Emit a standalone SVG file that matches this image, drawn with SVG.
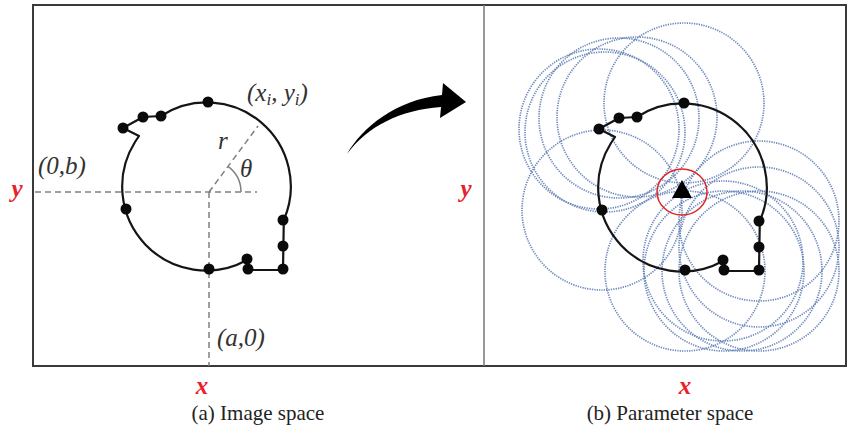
<svg xmlns="http://www.w3.org/2000/svg" xmlns:xlink="http://www.w3.org/1999/xlink" width="848" height="430" viewBox="0 0 848 430">
<style>
.frame{fill:none;stroke:#3a3a3a;stroke-width:2}
.div{stroke:#777;stroke-width:1.5}
.dash{fill:none;stroke:#808080;stroke-width:1.5;stroke-dasharray:6 4}
.shape{fill:none;stroke:#151515;stroke-width:2.2;stroke-linejoin:round}
.dot{fill:#0a0a0a}
.hc{fill:none;stroke:#5f7db5;stroke-width:1.7;stroke-dasharray:1.3 1.1;opacity:0.9}
.lbl{font-family:"Liberation Serif",serif;font-style:italic;font-size:25px;fill:#333}
.ax{font-family:"Liberation Serif",serif;font-style:italic;font-weight:bold;font-size:25px;fill:#e8202a}
.cap{font-family:"Liberation Serif",serif;font-size:21px;fill:#222}
</style>
<defs>
<g id="edge">
<path class="shape" d="M161,116 A84,84 0 0 1 283.8,220 L283,270 L248,270 L247,260 A84,84 0 0 1 135,142 L139,136 L123,128 L143,117 Z"/>
<circle class="dot" cx="208" cy="102" r="5.5"/>
<circle class="dot" cx="161" cy="116" r="5.5"/>
<circle class="dot" cx="143" cy="117" r="5.5"/>
<circle class="dot" cx="123" cy="128" r="5.5"/>
<circle class="dot" cx="126" cy="209" r="5.5"/>
<circle class="dot" cx="209" cy="269" r="5.5"/>
<circle class="dot" cx="247" cy="259" r="5.5"/>
<circle class="dot" cx="248" cy="269" r="5.5"/>
<circle class="dot" cx="283" cy="220" r="5.5"/>
<circle class="dot" cx="283" cy="246" r="5.5"/>
<circle class="dot" cx="283" cy="269" r="5.5"/>
</g>
</defs>
<rect width="848" height="430" fill="#fff"/>
<g id="frame">
<rect class="frame" x="33" y="5" width="813" height="361"/>
<line class="div" x1="484" y1="5" x2="484" y2="366"/>
</g>
<g id="image-space">
<path class="dash" d="M35,192 H257 M209,192 V366 M209,192 L258,126"/>
<path fill="none" stroke="#808080" stroke-width="1.5" d="M241,192 A32,32 0 0 0 228,166.3"/>
<use xlink:href="#edge"/>
<text class="lbl" x="247" y="101">(x<tspan font-size="17" dy="4">i</tspan><tspan dy="-4">, y</tspan><tspan font-size="17" dy="4">i</tspan><tspan dy="-4">)</tspan></text>
<text class="lbl" x="218" y="149">r</text>
<text class="lbl" x="240" y="177">θ</text>
<text class="lbl" x="38" y="174">(0,b)</text>
<text class="lbl" x="217" y="346">(a,0)</text>
<text class="ax" x="17" y="197" text-anchor="middle">y</text>
<text class="ax" x="202" y="394" text-anchor="middle">x</text>
<text class="cap" x="258" y="420" text-anchor="middle">(a) Image space</text>
</g>
<g id="arrow">
<path fill="#000" d="M347,154 C362,128 395,100 442,95 L443,83 L466,102 L440,118 L441,107 C400,110 368,126 347,154 Z"/>
</g>
<g id="parameter-space">
<g id="hough-circles">
<circle class="hc" cx="684" cy="103" r="80"/>
<circle class="hc" cx="637" cy="117" r="80"/>
<circle class="hc" cx="619" cy="118" r="80"/>
<circle class="hc" cx="599" cy="129" r="80"/>
<circle class="hc" cx="605" cy="132" r="80"/>
<circle class="hc" cx="602" cy="210" r="80"/>
<circle class="hc" cx="685" cy="271" r="80"/>
<circle class="hc" cx="723" cy="261" r="80"/>
<circle class="hc" cx="724" cy="271" r="80"/>
<circle class="hc" cx="742" cy="271" r="80"/>
<circle class="hc" cx="759" cy="221" r="80"/>
<circle class="hc" cx="759" cy="247" r="80"/>
<circle class="hc" cx="759" cy="271" r="80"/>
</g>
<use xlink:href="#edge" transform="translate(476,1)"/>
<ellipse cx="682" cy="192" rx="25" ry="23" fill="none" stroke="#e02626" stroke-width="1.5"/>
<polygon points="682,180 672,198 692,198" fill="#000"/>
<text class="ax" x="466" y="197" text-anchor="middle">y</text>
<text class="ax" x="685" y="394" text-anchor="middle">x</text>
<text class="cap" x="670" y="420" text-anchor="middle">(b) Parameter space</text>
</g>
</svg>
